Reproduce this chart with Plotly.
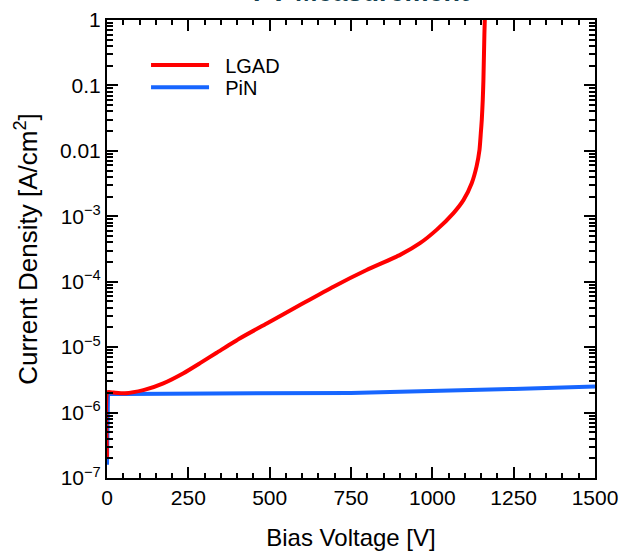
import plotly.graph_objects as go

# ---- data ----
lgad_v = [0, 2, 20, 55, 112, 173, 235, 286, 337, 409, 491, 593, 696, 798, 901,
          962, 1013, 1065, 1096, 1121, 1136, 1145, 1149, 1152, 1155, 1157, 1160, 1163]
lgad_j = [2.1e-7, 2.05e-6, 2.02e-6, 1.97e-6, 2.2e-6, 2.8e-6, 4.0e-6, 5.7e-6, 8.2e-6,
          1.37e-5, 2.3e-5, 4.4e-5, 8.4e-5, 1.51e-4, 2.57e-4,
          3.88e-4, 6.2e-4, 1.12e-3, 1.78e-3, 3.2e-3, 5.8e-3, 1.04e-2, 1.86e-2, 2.97e-2,
          6.0e-2, 0.12, 0.6, 2.0]

pin_v = [0, 3, 50, 250, 500, 750, 840, 1000, 1250, 1500]
pin_j = [1.6e-7, 1.92e-6, 1.93e-6, 1.94e-6, 1.95e-6, 2.0e-6, 2.04e-6, 2.12e-6, 2.3e-6, 2.5e-6]

y_tickvals = [1e-7, 1e-6, 1e-5, 1e-4, 1e-3, 1e-2, 1e-1, 1]
y_ticktext = ["10<sup>\u22127</sup>", "10<sup>\u22126</sup>", "10<sup>\u22125</sup>",
              "10<sup>\u22124</sup>", "10<sup>\u22123</sup>", "0.01", "0.1", "1"]
x_tickvals = [0, 250, 500, 750, 1000, 1250, 1500]

FONT = "Liberation Sans, Arial, sans-serif"
NB = "\u00a0\u00a0"

fig = go.Figure()
fig.add_trace(go.Scatter(x=pin_v, y=pin_j, mode="lines", name=NB + "PiN", legend="legend2",
                         line=dict(color="#1766ff", width=4)))
fig.add_trace(go.Scatter(x=lgad_v, y=lgad_j, mode="lines", name=NB + "LGAD", legend="legend",
                         line=dict(color="#ff0000", width=4, shape="spline", smoothing=0.5)))

axis_common = dict(showgrid=False, zeroline=False, showline=True, linecolor="black",
                   linewidth=2, mirror="allticks", ticks="inside", tickcolor="black",
                   tickwidth=1.5, automargin=False,
                   tickfont=dict(family=FONT, size=21, color="black"))

legend_common = dict(x=0.08, xanchor="left", yanchor="middle", bgcolor="rgba(0,0,0,0)",
                     font=dict(family=FONT, size=20, color="black"), itemwidth=58)

fig.update_layout(
    width=621, height=551,
    margin=dict(l=107, r=26, t=20, b=73),
    paper_bgcolor="white", plot_bgcolor="white",
    font=dict(family=FONT, color="black"),
    showlegend=True,
    legend=dict(y=0.902, **legend_common),
    legend2=dict(y=0.853, **legend_common),
    xaxis=dict(range=[0, 1500], tickvals=x_tickvals, ticklen=11,
               title=dict(text="Bias Voltage [V]", font=dict(family=FONT, size=24), standoff=24),
               minor=dict(dtick=50, ticks="inside", ticklen=5, tickcolor="black", tickwidth=1.5),
               **axis_common),
    yaxis=dict(type="log", range=[-7, 0], tickvals=y_tickvals, ticktext=y_ticktext, ticklen=11,
               title=dict(text="Current Density [A/cm<sup>2</sup>]", font=dict(family=FONT, size=26), standoff=15),
               minor=dict(dtick="D1", ticks="inside", ticklen=6, tickcolor="black", tickwidth=1.5),
               **axis_common),
    annotations=[dict(text="<b>I-V Measurement</b>", xref="paper", yref="paper",
                      x=0.52, y=1.0, xanchor="center", yanchor="bottom", yshift=11,
                      showarrow=False, font=dict(family=FONT, size=27, color="#123f4f"))],
)

fig.write_html("out.html")
